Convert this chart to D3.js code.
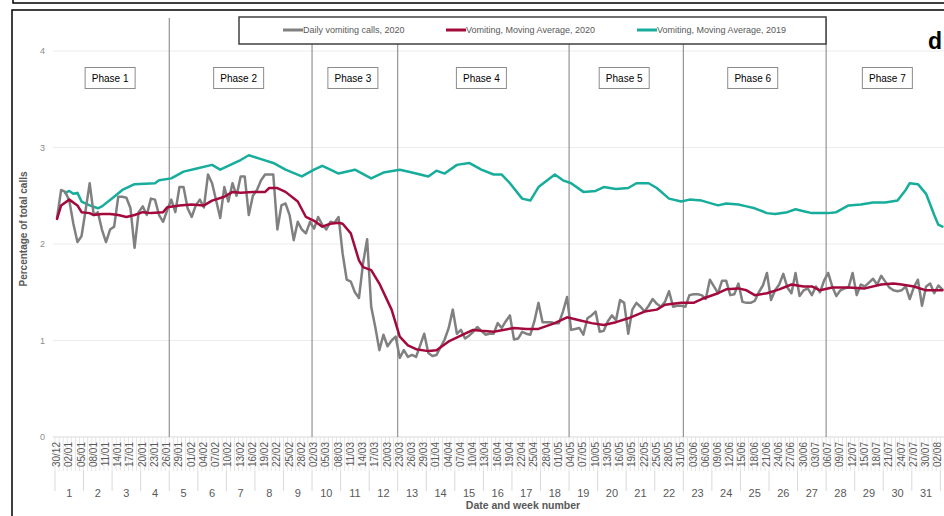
<!DOCTYPE html>
<html>
<head>
<meta charset="utf-8">
<script src="https://cdn.jsdelivr.net/npm/d3@7"></script>
<style>
  body { margin: 0; background: #fff; }
  svg { display: block; font-family: "Liberation Sans", Arial, sans-serif; }
</style>
</head>
<body>
<svg width="944" height="516"></svg>
<script>

// DATA ––––––––––––––––––––––––––––––––––––––––––––––––––––––––––––––––

var startDate = new Date(2019, 11, 30);

// daily % of calls, one per day from 30/12
var dailyCalls2020 = [
  2.27, 2.56, 2.54, 2.45, 2.21, 2.02, 2.08, 2.35, 2.63, 2.30,
  2.33, 2.15, 2.02, 2.15, 2.18, 2.49, 2.49, 2.48, 2.37, 1.96,
  2.33, 2.39, 2.30, 2.47, 2.46, 2.30, 2.23, 2.35, 2.46, 2.33,
  2.59, 2.59, 2.37, 2.28, 2.40, 2.46, 2.38, 2.72, 2.63, 2.45,
  2.27, 2.59, 2.44, 2.63, 2.50, 2.70, 2.70, 2.30, 2.50, 2.56,
  2.66, 2.72, 2.72, 2.72, 2.15, 2.40, 2.42, 2.30, 2.04, 2.23,
  2.15, 2.11, 2.23, 2.16, 2.28, 2.20, 2.15, 2.23, 2.22, 2.28,
  1.90, 1.63, 1.61, 1.50, 1.44, 1.80, 2.05, 1.35, 1.14, 0.90,
  1.06, 0.94, 1.00, 1.04, 0.82, 0.90, 0.83, 0.85, 0.83, 0.95,
  1.07, 0.87, 0.84, 0.85, 0.93, 1.01, 1.13, 1.32, 1.07, 1.11,
  1.02, 1.05, 1.09, 1.14, 1.10, 1.06, 1.07, 1.07, 1.18, 1.13,
  1.20, 1.26, 1.01, 1.02, 1.09, 1.07, 1.06, 1.20, 1.39, 1.19,
  1.19, 1.19, 1.18, 1.18, 1.30, 1.45, 1.11, 1.12, 1.13, 1.06,
  1.23, 1.26, 1.30, 1.09, 1.10, 1.20, 1.26, 1.21, 1.42, 1.39,
  1.07, 1.32, 1.39, 1.35, 1.30, 1.36, 1.43, 1.38, 1.35, 1.40,
  1.51, 1.35, 1.36, 1.36, 1.35, 1.47, 1.48, 1.48, 1.47, 1.43,
  1.63, 1.56, 1.49, 1.62, 1.62, 1.47, 1.48, 1.59, 1.40, 1.39,
  1.39, 1.41, 1.50, 1.57, 1.70, 1.42, 1.52, 1.58, 1.69, 1.55,
  1.49, 1.70, 1.46, 1.52, 1.54, 1.47, 1.56, 1.50, 1.62, 1.70,
  1.56, 1.46, 1.52, 1.54, 1.55, 1.70, 1.47, 1.58, 1.56, 1.60,
  1.64, 1.58, 1.67, 1.61, 1.55, 1.52, 1.51, 1.52, 1.56, 1.43,
  1.55, 1.63, 1.36, 1.56, 1.59, 1.49, 1.57, 1.53
];

// moving average 2020, read at these day numbers
var avg2020Days = [0, 1, 3, 5, 6, 8, 9, 11, 13, 15, 17, 19, 21, 23, 26, 27, 30, 33, 36, 38,
  41, 43, 45, 48, 51, 52, 54, 56, 59, 61, 63, 65, 67, 69, 70, 72, 74, 75, 77, 79,
  82, 84, 86, 88, 91, 93, 96, 100, 102, 104, 107, 112, 115, 118, 122, 125, 128, 131, 134, 137,
  140, 144, 147, 149, 153, 156, 158, 162, 164, 167, 169, 171, 174, 177, 180, 183, 185, 187, 190, 194,
  198, 202, 205, 207, 210, 213, 217];
var avg2020 = [2.26, 2.40, 2.46, 2.40, 2.33, 2.32, 2.30, 2.31, 2.31, 2.30, 2.28, 2.30, 2.33, 2.32, 2.33, 2.38, 2.40, 2.41, 2.40, 2.45,
  2.49, 2.54, 2.53, 2.54, 2.54, 2.58, 2.58, 2.54, 2.44, 2.28, 2.24, 2.18, 2.21, 2.22, 2.21, 2.11, 1.83, 1.76, 1.73, 1.59,
  1.32, 1.04, 0.95, 0.91, 0.89, 0.90, 0.99, 1.07, 1.11, 1.10, 1.09, 1.13, 1.12, 1.12, 1.18, 1.24, 1.21, 1.18, 1.16, 1.19,
  1.23, 1.30, 1.32, 1.37, 1.39, 1.39, 1.43, 1.49, 1.53, 1.54, 1.52, 1.47, 1.49, 1.53, 1.58, 1.56, 1.56, 1.52, 1.55, 1.55,
  1.54, 1.58, 1.59, 1.58, 1.56, 1.52, 1.52];

// moving average 2019
var avg2019Days = [2, 3, 4, 5, 6, 8, 10, 11, 14, 16, 19, 24, 25, 28, 31, 34, 38, 40, 43, 45,
  47, 50, 53, 56, 60, 63, 65, 67, 69, 73, 77, 80, 84, 87, 91, 93, 95, 98, 101, 104,
  107, 109, 111, 114, 116, 118, 122, 124, 126, 129, 132, 134, 137, 140, 142, 145, 147, 150, 153, 155,
  158, 162, 164, 167, 169, 171, 174, 176, 179, 181, 183, 185, 189, 191, 194, 197, 200, 203, 206, 208,
  209, 211, 213, 215, 216, 217];
var avg2019 = [2.53, 2.55, 2.52, 2.53, 2.44, 2.40, 2.37, 2.39, 2.49, 2.56, 2.62, 2.63, 2.66, 2.68, 2.75, 2.78, 2.82, 2.77, 2.83, 2.87,
  2.92, 2.88, 2.84, 2.77, 2.70, 2.77, 2.81, 2.77, 2.73, 2.77, 2.68, 2.74, 2.77, 2.74, 2.70, 2.76, 2.73, 2.82, 2.84, 2.77,
  2.72, 2.72, 2.63, 2.47, 2.45, 2.59, 2.72, 2.66, 2.63, 2.54, 2.55, 2.59, 2.57, 2.58, 2.63, 2.63, 2.58, 2.47, 2.44, 2.46,
  2.45, 2.40, 2.42, 2.41, 2.39, 2.37, 2.32, 2.31, 2.33, 2.36, 2.34, 2.32, 2.32, 2.33, 2.40, 2.41, 2.43, 2.43, 2.45, 2.56,
  2.63, 2.62, 2.52, 2.30, 2.20, 2.18];

var phaseNames = ["Phase 1", "Phase 2", "Phase 3", "Phase 4", "Phase 5", "Phase 6", "Phase 7"];
var phaseStartDays = [0, 28, 63, 84, 126, 154, 189];
var phaseEndDay = 220;

var yTicks = [0, 1, 2, 3, 4];
var legendLabels = ["Daily vomiting calls, 2020", "Vomiting, Moving Average, 2020", "Vomiting, Moving Average, 2019"];
var colors = ["#808080", "#a30a3b", "#17ad9c"];


// D3 ––––––––––––––––––––––––––––––––––––––––––––––––––––––––––––––––––

var svg = d3.select("svg");
var textGrey = "#595959";
var dayW = 4.08;
var nDays = dailyCalls2020.length;

var x = d3.scaleLinear().domain([-0.5, nDays - 0.5]).range([55, 55 + nDays * dayW]);
var y = d3.scaleLinear().domain([0, 4]).range([437, 51]);

var dates = d3.timeDay.range(startDate, d3.timeDay.offset(startDate, nDays));
var fmt = d3.timeFormat("%d/%m");

// frames
svg.append("rect").attr("x", 13).attr("y", -20).attr("width", 1000).attr("height", 23)
  .attr("fill", "none").attr("stroke", "#000").attr("stroke-width", 1.5);
svg.append("rect").attr("x", 12).attr("y", 10).attr("width", 1000).attr("height", 600)
  .attr("fill", "none").attr("stroke", "#000").attr("stroke-width", 1.5);

// gridlines + y labels
var g = svg.append("g");
g.selectAll(".grid").data(yTicks.slice(1)).enter().append("line")
  .attr("x1", 53).attr("x2", 944)
  .attr("y1", function(d) { return y(d); }).attr("y2", function(d) { return y(d); })
  .attr("stroke", "#ececec").attr("stroke-width", 1);
g.selectAll(".ylab").data(yTicks).enter().append("text")
  .attr("x", 45).attr("y", function(d) { return y(d) + 3; })
  .attr("text-anchor", "end").attr("font-size", 9).attr("fill", "#8c8c8c")
  .text(function(d) { return d; });

svg.append("text")
  .attr("transform", "translate(27,229) rotate(-90)")
  .attr("text-anchor", "middle").attr("font-size", 10).attr("font-weight", "bold")
  .attr("fill", textGrey).text("Percentage of total calls");

// x axis: days
var ax = svg.append("g");
ax.append("line").attr("x1", 53).attr("x2", 944).attr("y1", 437).attr("y2", 437)
  .attr("stroke", "#d9d9d9");
ax.selectAll(".dtick").data(d3.range(nDays + 1)).enter().append("line")
  .attr("x1", function(i) { return x(i - 0.5); }).attr("x2", function(i) { return x(i - 0.5); })
  .attr("y1", 437).attr("y2", 471)
  .attr("stroke", "#e6e6e6").attr("stroke-width", 1);
ax.selectAll(".dlab").data(dates.filter(function(d, i) { return i % 3 === 0; })).enter().append("text")
  .attr("transform", function(d) {
    var i = d3.timeDay.count(startDate, d);
    return "translate(" + (x(i) + 3) + ",442) rotate(-90)";
  })
  .attr("text-anchor", "end").attr("font-size", 10).attr("fill", textGrey)
  .text(function(d) { return fmt(d); });

// weeks (complete weeks only)
var weeks = d3.range(Math.floor(nDays / 7));
ax.selectAll(".wtick").data(weeks.concat([weeks.length])).enter().append("line")
  .attr("x1", function(w) { return x(w * 7 - 0.5); }).attr("x2", function(w) { return x(w * 7 - 0.5); })
  .attr("y1", 471).attr("y2", 491)
  .attr("stroke", "#d9d9d9").attr("stroke-width", 1);
ax.selectAll(".wlab").data(weeks).enter().append("text")
  .attr("x", function(w) { return x(w * 7 + 3); }).attr("y", 497)
  .attr("text-anchor", "middle").attr("font-size", 11).attr("fill", textGrey)
  .text(function(w) { return w + 1; });

svg.append("text").attr("x", 523).attr("y", 509)
  .attr("text-anchor", "middle").attr("font-size", 10.5).attr("font-weight", "bold")
  .attr("fill", textGrey).text("Date and week number");

// phase lines
svg.selectAll(".pline").data(phaseStartDays.slice(1)).enter().append("line")
  .attr("x1", function(d) { return x(d - 0.5); }).attr("x2", function(d) { return x(d - 0.5); })
  .attr("y1", 18).attr("y2", 437)
  .attr("stroke", "#7f7f7f").attr("stroke-width", 1);

// series
var line = d3.line()
  .x(function(d) { return x(d[0]); })
  .y(function(d) { return y(d[1]); });

var seriesData = [
  dailyCalls2020.map(function(v, i) { return [i, v]; }),
  avg2020Days.map(function(d, i) { return [d, avg2020[i]]; }),
  avg2019Days.map(function(d, i) { return [d, avg2019[i]]; })
];
[2, 0, 1].forEach(function(k) {
  svg.append("path").datum(seriesData[k])
    .attr("fill", "none")
    .attr("stroke", colors[k])
    .attr("stroke-width", 2.5)
    .attr("stroke-linejoin", "round")
    .attr("stroke-linecap", "round")
    .attr("d", line);
});

// phase boxes
var pg = svg.selectAll(".phase").data(phaseNames).enter().append("g")
  .attr("transform", function(d, i) {
    var end = i < phaseStartDays.length - 1 ? phaseStartDays[i + 1] : phaseEndDay;
    var cx = (x(phaseStartDays[i] - 0.5) + x(end - 0.5)) / 2;
    return "translate(" + (cx - 2) + ",78)";
  });
pg.append("rect").attr("x", -25).attr("y", -10.5).attr("width", 50).attr("height", 21)
  .attr("fill", "#fff").attr("stroke", "#8c8c8c").attr("stroke-width", 1);
pg.append("text").attr("y", 3.5).attr("text-anchor", "middle")
  .attr("font-size", 10).attr("fill", "#000").text(function(d) { return d; });

// legend
var lg = svg.append("g");
lg.append("rect").attr("x", 239).attr("y", 17).attr("width", 587).attr("height", 27)
  .attr("fill", "#fff").attr("stroke", "#404040").attr("stroke-width", 1.5);
var legX = [283, 446, 637];
legendLabels.forEach(function(t, i) {
  lg.append("line").attr("x1", legX[i]).attr("x2", legX[i] + 20).attr("y1", 30).attr("y2", 30)
    .attr("stroke", colors[i]).attr("stroke-width", 3);
  lg.append("text").attr("x", legX[i] + 20).attr("y", 33)
    .attr("font-size", 9).attr("fill", textGrey)
    .text(t);
});

// panel letter
svg.append("text").attr("x", 928).attr("y", 49)
  .attr("font-size", 23).attr("font-weight", "bold").attr("fill", "#000").text("d");

</script>
</body>
</html>
